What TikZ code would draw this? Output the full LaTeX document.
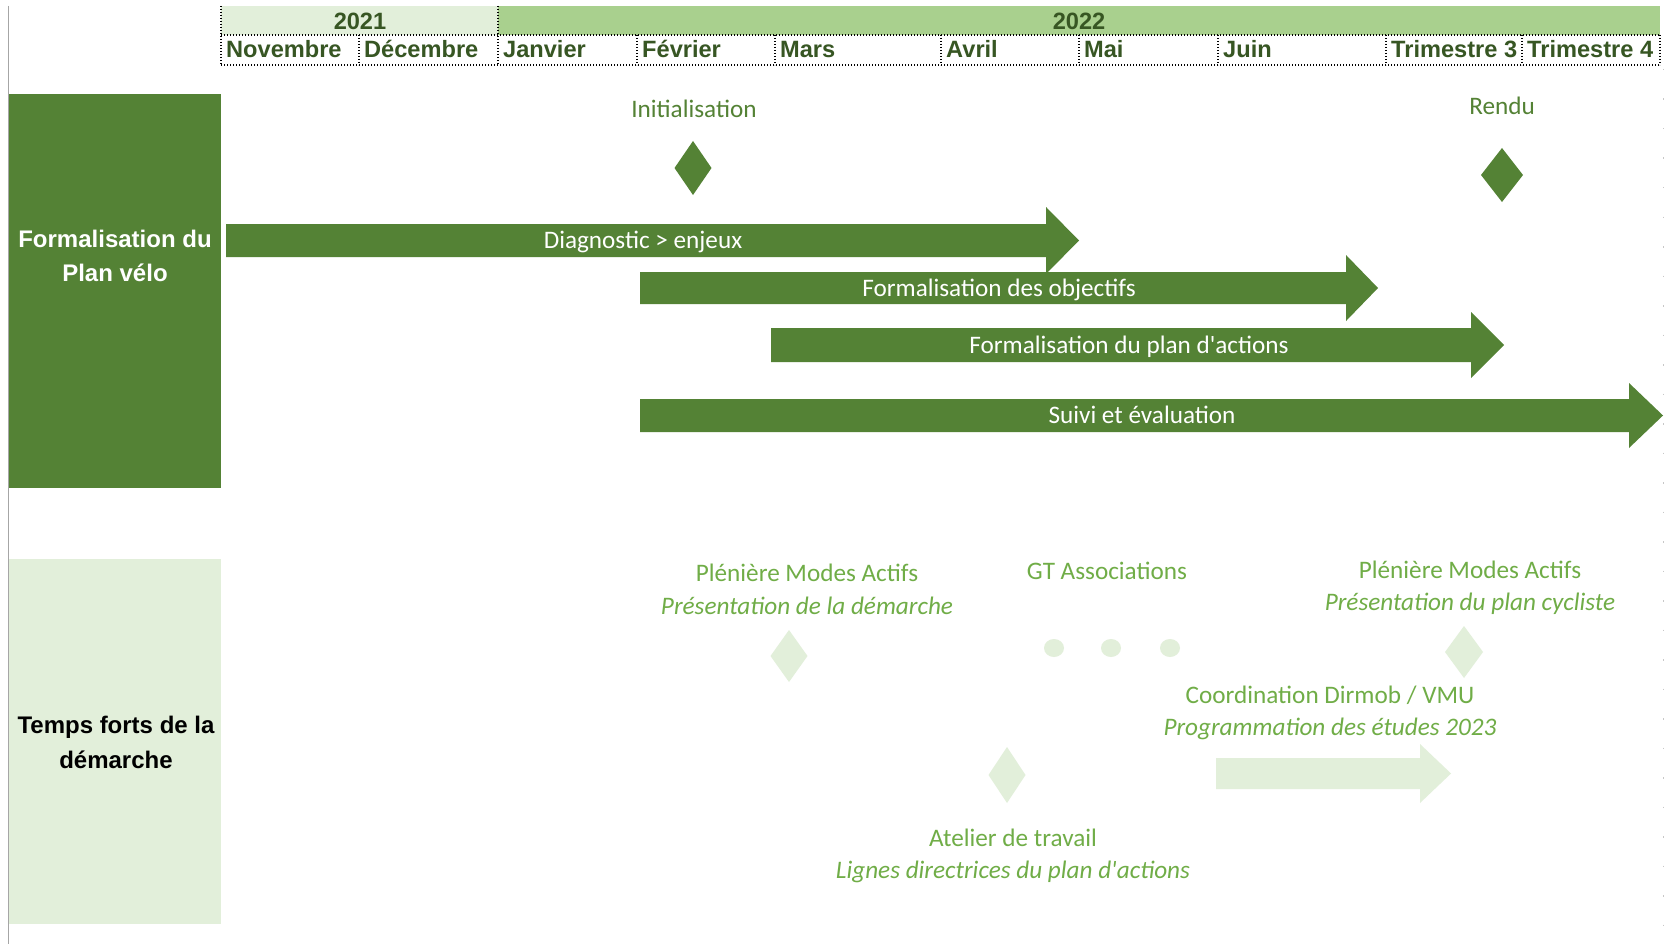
\documentclass[tikz,border=0pt]{standalone}
\usepackage{fontspec}
\setmainfont{Carlito}
\newfontfamily\arial{Liberation Sans}
\definecolor{dkgreen}{HTML}{548235}
\definecolor{ltgreen}{HTML}{E2EFDA}
\definecolor{mdgreen}{HTML}{A9D08E}
\definecolor{txtgreen}{HTML}{70AD47}
\definecolor{hdrgreen}{HTML}{375623}
\begin{document}
\begin{tikzpicture}[x=1pt,y=-1pt,
  hdr/.style={inner sep=0pt, anchor=base west, text=hdrgreen, font=\arial\bfseries\fontsize{23.6}{27}\selectfont},
  yr/.style={inner sep=0pt, anchor=base, text=hdrgreen, font=\arial\bfseries\fontsize{23.6}{27}\selectfont},
  lbl/.style={inner sep=0pt, anchor=base, font=\arial\bfseries\fontsize{24}{28}\selectfont},
  bartxt/.style={inner sep=0pt, anchor=base, text=white, font=\fontsize{25.2}{30}\selectfont},
  ms/.style={inner sep=0pt, anchor=base, text=dkgreen, font=\fontsize{25.2}{30}\selectfont},
  ev/.style={inner sep=0pt, anchor=base, text=txtgreen, font=\fontsize{25.2}{30}\selectfont},
  evi/.style={inner sep=0pt, anchor=base, text=txtgreen, font=\itshape\fontsize{25.2}{30}\selectfont},
  grid/.style={black, line width=1.1pt, dash pattern=on 1.4pt off 1.6pt},
  box/.style={inner sep=0pt, anchor=north west, draw=none}
]
\useasboundingbox (0,0) rectangle (1669,944);
\fill[white] (0,0) rectangle (1669,944);

% left gray rule
\draw[black!35, line width=1.5pt] (8.5,6) -- (8.5,944);
% faint grid line at right
\draw[black!22, line width=1pt, dash pattern=on 1.5pt off 28pt] (1663,69) -- (1663,930);

% header
\node[box, fill=ltgreen, minimum width=277pt, minimum height=29pt] (c2021) at (221,6) {};
\node[box, fill=mdgreen, minimum width=1162pt, minimum height=29pt] (c2022) at (498,6) {};
\draw[grid] (221,6) -- (221,65);
\draw[grid] (498,6) -- (498,65);
\draw[grid] (221,35) -- (1660,35);
\draw[grid] (221,65) -- (1660,65);
\foreach \xx in {359,637,775,941,1079,1218,1386,1522,1660}
  \draw[grid] (\xx,35) -- (\xx,65);
\node[yr] (y2021) at (360,30) {2021};
\node[yr] (y2022) at (1079,30) {2022};
\node[hdr] (mnov) at (226,58) {Novembre};
\node[hdr] (mdec) at (364,58) {Décembre};
\node[hdr] (mjan) at (503,58) {Janvier};
\node[hdr] (mfev) at (642,58) {Février};
\node[hdr] (mmar) at (780,58) {Mars};
\node[hdr] (mavr) at (946,58) {Avril};
\node[hdr] (mmai) at (1084,58) {Mai};
\node[hdr] (mjun) at (1223,58) {Juin};
\node[hdr] (mt3) at (1391,58) {Trimestre 3};
\node[hdr] (mt4) at (1527,58) {Trimestre 4};

% left boxes
\node[box, fill=dkgreen, minimum width=212pt, minimum height=394pt] (boxA) at (9,94) {};
\node[box, fill=ltgreen, minimum width=212pt, minimum height=365pt] (boxB) at (9,559) {};
\node[lbl, text=white] (la1) at (115,247) {Formalisation du};
\node[lbl, text=white] (la2) at (115,281) {Plan vélo};
\node[lbl, text=black] (lb1) at (116,733) {Temps forts de la};
\node[lbl, text=black] (lb2) at (116,768) {démarche};

% milestones
\node[ms] (tinit) at (694,118) {Initialisation};
\fill[dkgreen] (693,141) -- (711.5,168) -- (693,195) -- (674.5,168) -- cycle;
\node[ms] (trendu) at (1502,115) {Rendu};
\fill[dkgreen] (1502,148) -- (1523,175) -- (1502,202) -- (1481,175) -- cycle;

% bars
\fill[dkgreen] (226,224) -- (1046,224) -- (1046,207) -- (1079,240.5) -- (1046,274) -- (1046,257) -- (226,257) -- cycle;
\node[bartxt] (tdiag) at (643,248.5) {Diagnostic > enjeux};
\fill[dkgreen] (640,272) -- (1346,272) -- (1346,255) -- (1378,288) -- (1346,321) -- (1346,304) -- (640,304) -- cycle;
\node[bartxt] (tobj) at (999,296) {Formalisation des objectifs};
\fill[dkgreen] (771,328) -- (1471,328) -- (1471,312) -- (1504,345) -- (1471,378) -- (1471,362) -- (771,362) -- cycle;
\node[bartxt] (tpa) at (1129,353) {Formalisation du plan d\textquotesingle actions};
\fill[dkgreen] (640,399) -- (1629,399) -- (1629,383) -- (1663,415.5) -- (1629,448) -- (1629,432) -- (640,432) -- cycle;
\node[bartxt] (tsuivi) at (1142,423.5) {Suivi et évaluation};

% lower section
\node[ev] (p1a) at (807,581) {Plénière Modes Actifs};
\node[evi] (p1b) at (807,614) {Présentation de la démarche};
\fill[ltgreen] (789,630) -- (807.5,656) -- (789,682) -- (770.5,656) -- cycle;

\node[ev] (gt) at (1107,579) {GT Associations};
\fill[ltgreen] (1054,648) ellipse [x radius=10, y radius=9];
\fill[ltgreen] (1111,648) ellipse [x radius=10, y radius=9];
\fill[ltgreen] (1170,648) ellipse [x radius=10, y radius=9];

\node[ev] (p2a) at (1470,578) {Plénière Modes Actifs};
\node[evi] (p2b) at (1470,610) {Présentation du plan cycliste};
\fill[ltgreen] (1464,626) -- (1483,652) -- (1464,678) -- (1445,652) -- cycle;

\node[ev] (coa) at (1330,703) {Coordination Dirmob / VMU};
\node[evi] (cob) at (1330,735) {Programmation des études 2023};
\fill[ltgreen] (1216,758) -- (1420,758) -- (1420,744) -- (1451,773.5) -- (1420,803) -- (1420,789) -- (1216,789) -- cycle;

\fill[ltgreen] (1007,747) -- (1025.5,775) -- (1007,803) -- (988.5,775) -- cycle;
\node[ev] (ata) at (1013,846) {Atelier de travail};
\node[evi] (atb) at (1013,878) {Lignes directrices du plan d\textquotesingle actions};
\end{tikzpicture}
\end{document}
